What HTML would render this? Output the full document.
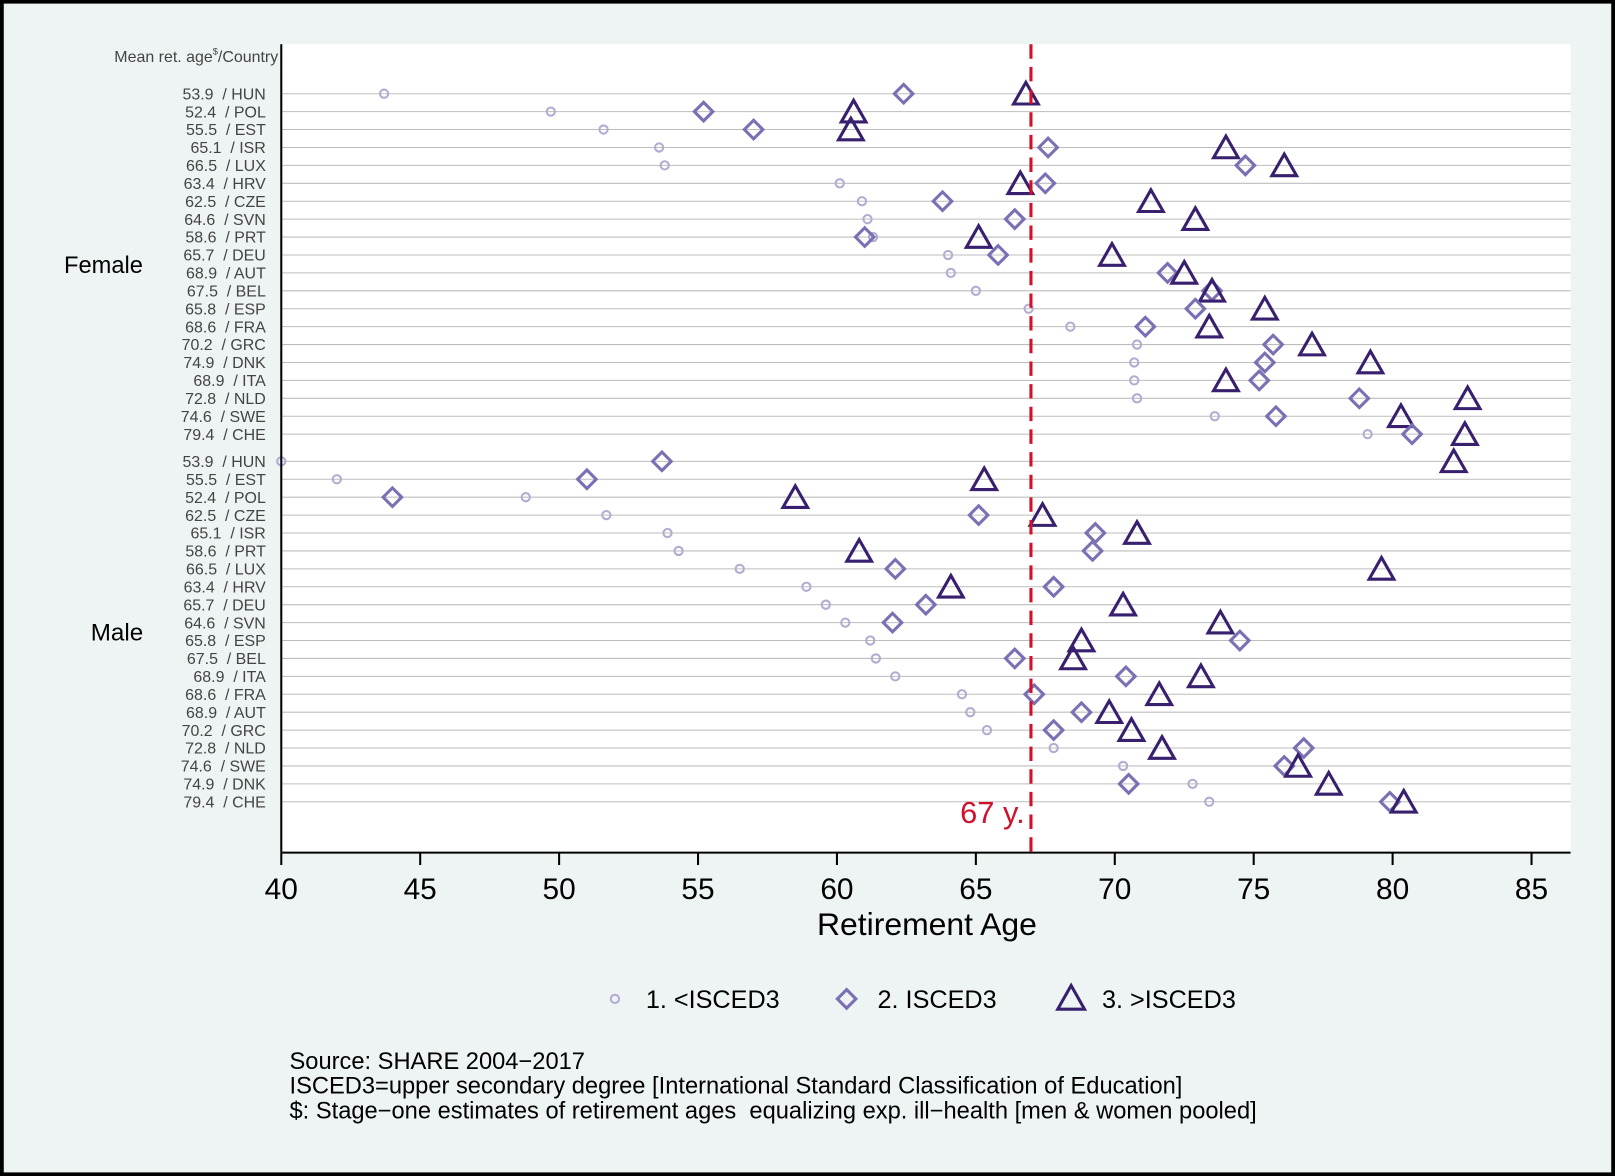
<!DOCTYPE html>
<html><head><meta charset="utf-8"><style>
html,body{margin:0;padding:0;background:#eef3f3;}
svg{display:block;font-family:"Liberation Sans",sans-serif;}
</style></head><body>
<svg id="chart" width="1615" height="1176" viewBox="0 0 1568 1142" xmlns="http://www.w3.org/2000/svg">
<rect x="0" y="0" width="1568" height="1142" fill="#eef3f3"/>
<rect x="1.5" y="1.5" width="1565" height="1139" fill="none" stroke="#000" stroke-width="4"/>
<rect x="273" y="43" width="1252" height="785" fill="#fff"/>
<g id="grid"></g>
<g id="marks"></g>
<g id="labels"></g>
<line x1="273" y1="43" x2="273" y2="828" stroke="#000" stroke-width="2"/>
<line x1="273" y1="828" x2="1525" y2="828" stroke="#000" stroke-width="2"/>
<g id="xticks"></g>
<text x="270" y="60" text-anchor="end" font-size="15.5" fill="#444">Mean ret. age<tspan font-size="9" dy="-7">$</tspan><tspan dy="7">/Country</tspan></text>
<text x="62" y="265" font-size="23" fill="#000">Female</text>
<text x="88" y="622" font-size="23.5" fill="#000">Male</text>
<text x="900" y="908" text-anchor="middle" font-size="31" fill="#000">Retirement Age</text>
<g>
<g><circle cx="597" cy="970" r="4" fill="none" stroke="#b3abd2" stroke-width="2"/><text x="627" y="979" font-size="24.5" fill="#000">1. &lt;ISCED3</text></g>
<g><path d="M822 961 L831 970 L822 979 L813 970 Z" fill="none" stroke="#7b70b3" stroke-width="3"/><text x="852" y="979" font-size="24.5" fill="#000">2. ISCED3</text></g>
<g><path d="M1040 957 L1053 980 L1027 980 Z" fill="none" stroke="#38206f" stroke-width="3"/><text x="1070" y="979" font-size="24.5" fill="#000">3. &gt;ISCED3</text></g>
</g>
<g font-size="23" fill="#000">
<text x="281" y="1038">Source: SHARE 2004−2017</text>
<text x="281" y="1062">ISCED3=upper secondary degree [International Standard Classification of Education]</text>
<text x="281" y="1086" xml:space="preserve">$: Stage−one estimates of retirement ages  equalizing exp. ill−health [men &amp; women pooled]</text>
</g>
<line x1="1001" y1="43" x2="1001" y2="828" stroke="#d0112b" stroke-width="3" stroke-dasharray="14 8"/>
<text x="995" y="799" text-anchor="end" font-size="30" fill="#d0112b">67 y.</text>
</svg>
<script>
const femaleCountries=["HUN","POL","EST","ISR","LUX","HRV","CZE","SVN","PRT","DEU","AUT","BEL","ESP","FRA","GRC","DNK","ITA","NLD","SWE","CHE"];
const femaleMeans=["53.9","52.4","55.5","65.1","66.5","63.4","62.5","64.6","58.6","65.7","68.9","67.5","65.8","68.6","70.2","74.9","68.9","72.8","74.6","79.4"];
const femaleLow=[43.7,49.7,51.6,53.6,53.8,60.1,60.9,61.1,61.3,64.0,64.1,65.0,66.9,68.4,70.8,70.7,70.7,70.8,73.6,79.1];
const femaleMid=[62.4,55.2,57.0,67.6,74.7,67.5,63.8,66.4,61.0,65.8,71.9,73.5,72.9,71.1,75.7,75.4,75.2,78.8,75.8,80.7];
const femaleHigh=[66.8,60.6,60.5,74.0,76.1,66.6,71.3,72.9,65.1,69.9,72.5,73.5,75.4,73.4,77.1,79.2,74.0,82.7,80.3,82.6];
const maleCountries=["HUN","EST","POL","CZE","ISR","PRT","LUX","HRV","DEU","SVN","ESP","BEL","ITA","FRA","AUT","GRC","NLD","SWE","DNK","CHE"];
const maleMeans=["53.9","55.5","52.4","62.5","65.1","58.6","66.5","63.4","65.7","64.6","65.8","67.5","68.9","68.6","68.9","70.2","72.8","74.6","74.9","79.4"];
const maleLow=[40.0,42.0,48.8,51.7,53.9,54.3,56.5,58.9,59.6,60.3,61.2,61.4,62.1,64.5,64.8,65.4,67.8,70.3,72.8,73.4];
const maleMid=[53.7,51.0,44.0,65.1,69.3,69.2,62.1,67.8,63.2,62.0,74.5,66.4,70.4,67.1,68.8,67.8,76.8,76.1,70.5,79.9];
const maleHigh=[82.2,65.3,58.5,67.4,70.8,60.8,79.6,64.1,70.3,73.8,68.8,68.5,73.1,71.6,69.8,70.6,71.7,76.6,77.7,80.4];
const xTicks=[40,45,50,55,60,65,70,75,80,85];

const NS="http://www.w3.org/2000/svg";
function xs(v){return 273+(v-40)*26.98;}
function mk(tag,attrs,parent){const e=document.createElementNS(NS,tag);for(const k in attrs)e.setAttribute(k,attrs[k]);parent.appendChild(e);return e;}
const grid=document.getElementById('grid'),marks=document.getElementById('marks'),labels=document.getElementById('labels'),xt=document.getElementById('xticks');

function group(countries,means,low,mid,high,y0,sex){
  countries.forEach((c,i)=>{
    const y=y0+i*17.4;
    const g=mk('line',{x1:273,x2:1525,y1:y,y2:y,stroke:'#bdbdbd','stroke-width':1},grid);
    
    
    const t=mk('text',{x:258,y:y+5.5,'text-anchor':'end','font-size':15.5,fill:'#444'},labels);
    t.setAttributeNS('http://www.w3.org/XML/1998/namespace','xml:space','preserve');
    t.textContent=means[i]+"  / "+c;
    
    
    const ci=mk('circle',{cx:xs(low[i]),cy:y,r:4,fill:'none',stroke:'#b3abd2','stroke-width':2},marks);
    
    
    const xm=xs(mid[i]);
    const d=mk('path',{d:`M${xm} ${y-9} L${xm+9} ${y} L${xm} ${y+9} L${xm-9} ${y} Z`,fill:'none',stroke:'#7b70b3','stroke-width':3},marks);
    
    
    const xh=xs(high[i]);
    const tr=mk('path',{d:`M${xh} ${y-11} L${xh+12} ${y+10} L${xh-12} ${y+10} Z`,fill:'none',stroke:'#38206f','stroke-width':3,'stroke-linejoin':'miter'},marks);
    
    
  });
}
group(femaleCountries,femaleMeans,femaleLow,femaleMid,femaleHigh,91,'female');
group(maleCountries,maleMeans,maleLow,maleMid,maleHigh,448,'male');
xTicks.forEach(v=>{
  const l=mk('line',{x1:xs(v),x2:xs(v),y1:828,y2:840,stroke:'#000','stroke-width':2},xt);
  
  
  const t=mk('text',{x:xs(v),y:873,'text-anchor':'middle','font-size':29,fill:'#000'},xt);
  t.textContent=v;
  
  
});
</script>
</body></html>
